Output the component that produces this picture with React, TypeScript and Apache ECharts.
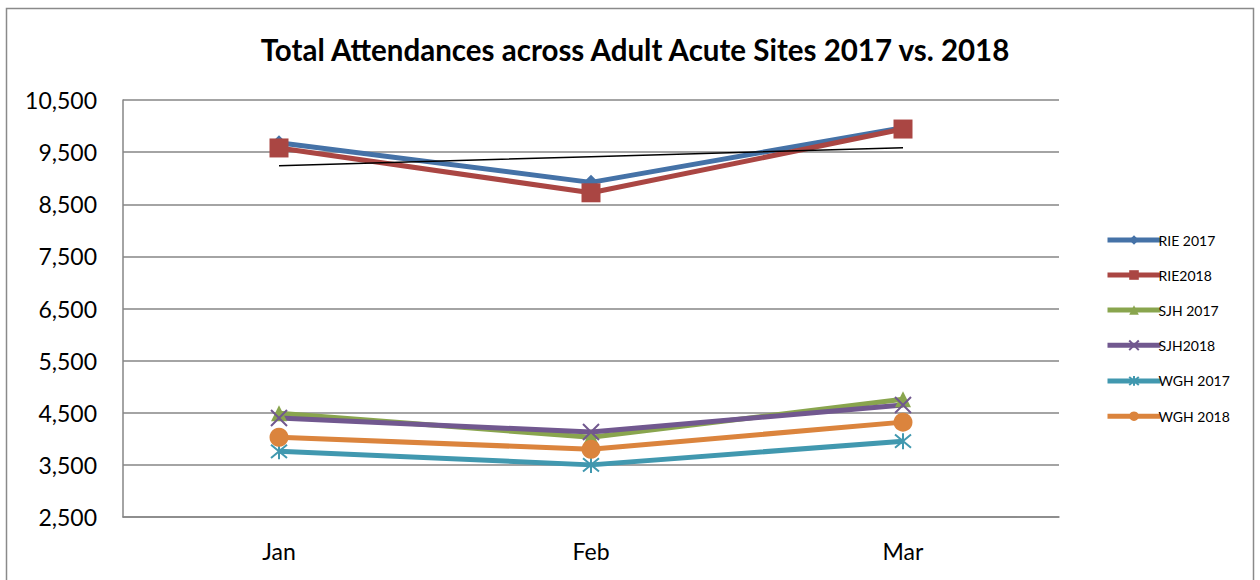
import React, { useEffect, useRef } from "react";
import * as echarts from "echarts";

const categories = ["Jan", "Feb", "Mar"];
const rie2017 = [9680, 8920, 9970];
const rie2018 = [9580, 8720, 9943];
const sjh2017 = [4490, 4030, 4760];
const sjh2018 = [4400, 4130, 4650];
const wgh2017 = [3760, 3500, 3955];
const wgh2018 = [4030, 3800, 4320];
const trendRie2018 = [9240, 9412, 9585];
const yTicks = [2500, 3500, 4500, 5500, 6500, 7500, 8500, 9500, 10500];

const X_SYMBOL = "path://M0,0 L10,10 M10,0 L0,10";
const STAR_SYMBOL = "path://M0,0 L10,10 M10,0 L0,10 M5,-1 L5,11";

export default function App() {
  const ref = useRef<HTMLDivElement>(null);
  useEffect(() => {
    if (!ref.current) return;
    const chart = echarts.init(ref.current, undefined, { renderer: "svg" });
    const font = "Lato, 'Open Sans', sans-serif";
    const mk = (name: string, data: number[], color: string, symbol: string, size: number, stroke = false) => ({
      name,
      type: "line",
      data,
      symbol,
      symbolSize: size,
      lineStyle: { color, width: 5 },
      itemStyle: stroke
        ? { color: "none", borderColor: color, borderWidth: 2 }
        : { color, borderColor: color, borderWidth: 0 },
      z: 3,
    });
    chart.setOption({
      animation: false,
      backgroundColor: "#fff",
      textStyle: { fontFamily: font },
      title: {
        text: "Total Attendances across Adult Acute Sites 2017 vs. 2018",
        left: 630,
        textAlign: "center",
        top: 29,
        textStyle: { fontFamily: font, fontSize: 29.5, fontWeight: "bold", color: "#000" },
      },
      graphic: [
        {
          type: "rect",
          shape: { x: 6.5, y: 8.5, width: 1247, height: 600 },
          style: { fill: "none", stroke: "#8a8a8a", lineWidth: 1.5 },
          silent: true,
        },
      ],
      legend: {
        orient: "vertical",
        left: 1100,
        top: 228,
        itemWidth: 53,
        itemHeight: 12,
        itemGap: 21,
        lineStyle: { width: 5 },
        data: ["RIE 2017", "RIE2018", "SJH 2017", "SJH2018", "WGH 2017", "WGH 2018"],
        textStyle: { fontFamily: font, fontSize: 14, color: "#000", padding: [0, 0, 0, -7] },
      },
      grid: { left: 123, right: 201, top: 100, bottom: 63 },
      xAxis: {
        type: "category",
        data: categories,
        boundaryGap: true,
        axisLine: { lineStyle: { color: "#868686", width: 1.5 } },
        axisTick: { show: false },
        axisLabel: { fontSize: 23, color: "#000", margin: 22, fontFamily: font },
      },
      yAxis: {
        type: "value",
        min: 2500,
        max: 10500,
        interval: 1000,
        axisLine: { show: true, lineStyle: { color: "#868686", width: 1.5 } },
        axisTick: { show: false },
        splitLine: { lineStyle: { color: "#868686", width: 1.5 } },
        axisLabel: {
          fontSize: 23,
          color: "#000",
          margin: 26,
          fontFamily: font,
          formatter: (v: number) => (yTicks.includes(v) ? v.toLocaleString("en-US") : ""),
        },
      },
      series: [
        mk("RIE 2017", rie2017, "#4572A7", "diamond", 15),
        mk("RIE2018", rie2018, "#AA4643", "rect", 19),
        mk("SJH 2017", sjh2017, "#89A54E", "triangle", 16),
        mk("SJH2018", sjh2018, "#71588F", X_SYMBOL, 16, true),
        mk("WGH 2017", wgh2017, "#4198AF", STAR_SYMBOL, 16, true),
        mk("WGH 2018", wgh2018, "#DB843D", "circle", 19),
        {
          name: "trend",
          type: "line",
          data: trendRie2018,
          symbol: "none",
          lineStyle: { color: "#000", width: 1.5 },
          z: 4,
        },
      ],
    });
    return () => chart.dispose();
  }, []);
  return (
    <div
      ref={ref}
      style={{ position: "fixed", left: 0, top: 0, width: 1260, height: 580 }}
    />
  );
}
